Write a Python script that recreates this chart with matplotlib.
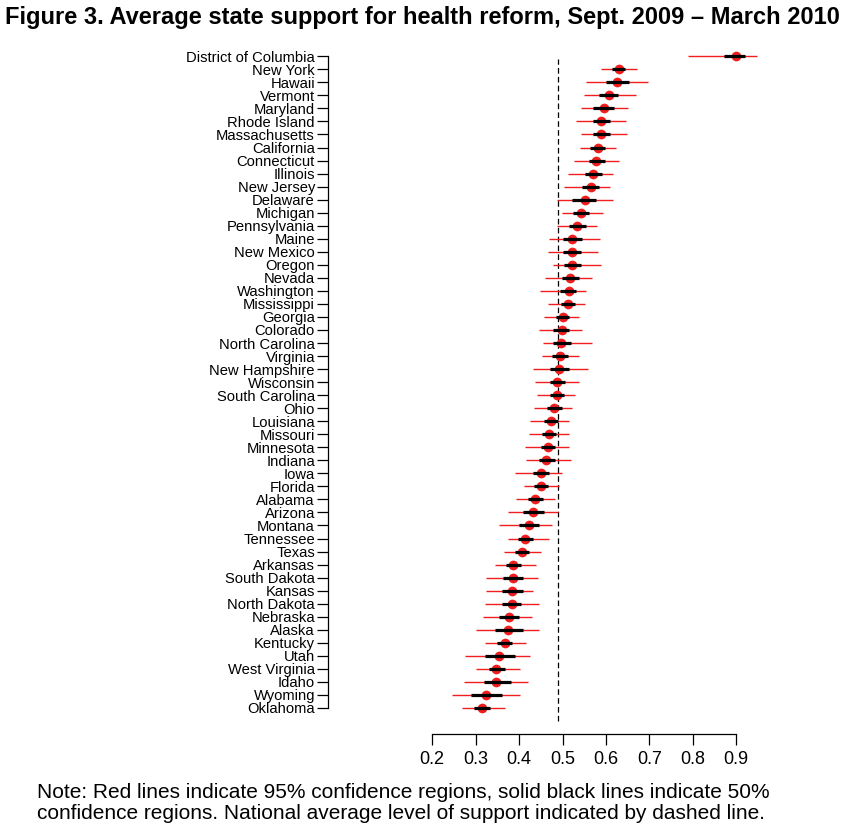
import matplotlib
matplotlib.use("Agg")
import matplotlib.pyplot as plt

states = ["District of Columbia", "New York", "Hawaii", "Vermont", "Maryland",
          "Rhode Island", "Massachusetts", "California", "Connecticut", "Illinois",
          "New Jersey", "Delaware", "Michigan", "Pennsylvania", "Maine",
          "New Mexico", "Oregon", "Nevada", "Washington", "Mississippi",
          "Georgia", "Colorado", "North Carolina", "Virginia", "New Hampshire",
          "Wisconsin", "South Carolina", "Ohio", "Louisiana", "Missouri",
          "Minnesota", "Indiana", "Iowa", "Florida", "Alabama",
          "Arizona", "Montana", "Tennessee", "Texas", "Arkansas",
          "South Dakota", "Kansas", "North Dakota", "Nebraska", "Alaska",
          "Kentucky", "Utah", "West Virginia", "Idaho", "Wyoming",
          "Oklahoma"]

est = [0.899, 0.629, 0.626, 0.606, 0.596, 0.589, 0.588, 0.581, 0.578, 0.570,
       0.565, 0.552, 0.542, 0.534, 0.522, 0.521, 0.521, 0.518, 0.515, 0.512,
       0.501, 0.498, 0.496, 0.494, 0.493, 0.487, 0.487, 0.481, 0.473, 0.469,
       0.466, 0.462, 0.450, 0.450, 0.436, 0.433, 0.423, 0.413, 0.407, 0.387,
       0.386, 0.384, 0.384, 0.376, 0.374, 0.367, 0.354, 0.348, 0.347, 0.323,
       0.315]

lo50 = [0.872, 0.615, 0.600, 0.585, 0.570, 0.570, 0.570, 0.564, 0.561, 0.552,
        0.545, 0.522, 0.525, 0.516, 0.502, 0.502, 0.504, 0.499, 0.495, 0.497,
        0.486, 0.479, 0.478, 0.476, 0.471, 0.471, 0.472, 0.464, 0.457, 0.452,
        0.450, 0.445, 0.432, 0.434, 0.420, 0.409, 0.400, 0.397, 0.391, 0.370,
        0.364, 0.361, 0.361, 0.354, 0.345, 0.350, 0.322, 0.331, 0.320, 0.290,
        0.296]

hi50 = [0.920, 0.645, 0.653, 0.628, 0.618, 0.609, 0.609, 0.598, 0.597, 0.590,
        0.584, 0.578, 0.560, 0.553, 0.544, 0.542, 0.542, 0.537, 0.532, 0.528,
        0.516, 0.516, 0.519, 0.512, 0.515, 0.506, 0.503, 0.498, 0.489, 0.486,
        0.483, 0.482, 0.469, 0.467, 0.454, 0.457, 0.446, 0.431, 0.423, 0.404,
        0.408, 0.408, 0.405, 0.399, 0.408, 0.384, 0.390, 0.367, 0.382, 0.360,
        0.334]

lo95 = [0.789, 0.589, 0.554, 0.549, 0.542, 0.531, 0.542, 0.540, 0.526, 0.512,
        0.503, 0.487, 0.499, 0.487, 0.469, 0.466, 0.478, 0.460, 0.448, 0.466,
        0.457, 0.446, 0.455, 0.453, 0.432, 0.437, 0.441, 0.434, 0.425, 0.423,
        0.413, 0.416, 0.390, 0.411, 0.393, 0.374, 0.354, 0.374, 0.365, 0.344,
        0.324, 0.324, 0.321, 0.317, 0.301, 0.321, 0.275, 0.301, 0.273, 0.245,
        0.268]

hi95 = [0.949, 0.671, 0.697, 0.669, 0.651, 0.646, 0.648, 0.623, 0.630, 0.616,
        0.609, 0.616, 0.593, 0.579, 0.586, 0.582, 0.588, 0.567, 0.555, 0.551,
        0.537, 0.546, 0.567, 0.537, 0.558, 0.539, 0.528, 0.523, 0.514, 0.516,
        0.516, 0.519, 0.499, 0.493, 0.482, 0.489, 0.476, 0.468, 0.450, 0.438,
        0.443, 0.433, 0.445, 0.429, 0.445, 0.417, 0.426, 0.401, 0.420, 0.401,
        0.367]

national_avg = 0.49
x_ticks = [0.2, 0.3, 0.4, 0.5, 0.6, 0.7, 0.8, 0.9]
x_tick_labels = ["0.2", "0.3", "0.4", "0.5", "0.6", "0.7", "0.8", "0.9"]

title = "Figure 3. Average state support for health reform, Sept. 2009 \u2013 March 2010"
note1 = "Note: Red lines indicate 95% confidence regions, solid black lines indicate 50%"
note2 = "confidence regions. National average level of support indicated by dashed line."

plt.rcParams['font.family'] = ['Liberation Sans', 'DejaVu Sans']

W, H = 844, 825
fig = plt.figure(figsize=(W / 100, H / 100), dpi=100)
fig.patch.set_facecolor("white")

ax_left, ax_right, ax_top, ax_bottom = 328, 797, 30.2, 734
ax = fig.add_axes([ax_left / W, 1 - ax_bottom / H,
                   (ax_right - ax_left) / W, (ax_bottom - ax_top) / H])

n = len(states)
ypos = [n - i for i in range(n)]

RED = "#f01e1e"
for y, e, l5, h5, l9, h9 in zip(ypos, est, lo50, hi50, lo95, hi95):
    ax.plot([l9, h9], [y, y], color=RED, lw=1.0, solid_capstyle="butt", zorder=2)
    ax.plot([e], [y], marker="o", markersize=7.0, color=RED, markeredgewidth=0,
            zorder=3)
    ax.plot([l5, h5], [y, y], color="black", lw=2.3, solid_capstyle="butt", zorder=4)

ax.plot([national_avg, national_avg], [0, n - 0.2], color="black", lw=0.9,
        linestyle=(0, (4.5, 2.6)), zorder=1)

ax.set_xlim(-0.04, 1.04)
ax.set_ylim(-1, n + 2)

ax.set_yticks(ypos)
ax.set_yticklabels(states, fontsize=10.6)
ax.set_xticks(x_ticks)
ax.set_xticklabels(x_tick_labels, fontsize=13)

for s in ["top", "right"]:
    ax.spines[s].set_visible(False)
ax.spines["left"].set_bounds(1, n)
ax.spines["bottom"].set_bounds(0.2, 0.9)
for s in ["left", "bottom"]:
    ax.spines[s].set_linewidth(0.9)

ax.tick_params(axis="y", direction="out", length=8.0, width=0.9, pad=1.4)
ax.tick_params(axis="x", direction="out", length=7.6, width=0.9, pad=5.0)
ax.set_facecolor("white")

fig.text(0.5, 1 - 24 / H, title, ha="center", va="baseline",
         fontsize=17, fontweight="bold")
fig.text(37 / W, 1 - 798 / H, note1, ha="left", va="baseline", fontsize=15.0)
fig.text(37 / W, 1 - 819 / H, note2, ha="left", va="baseline", fontsize=15.0)

fig.savefig("out.png", dpi=100, facecolor="white")
